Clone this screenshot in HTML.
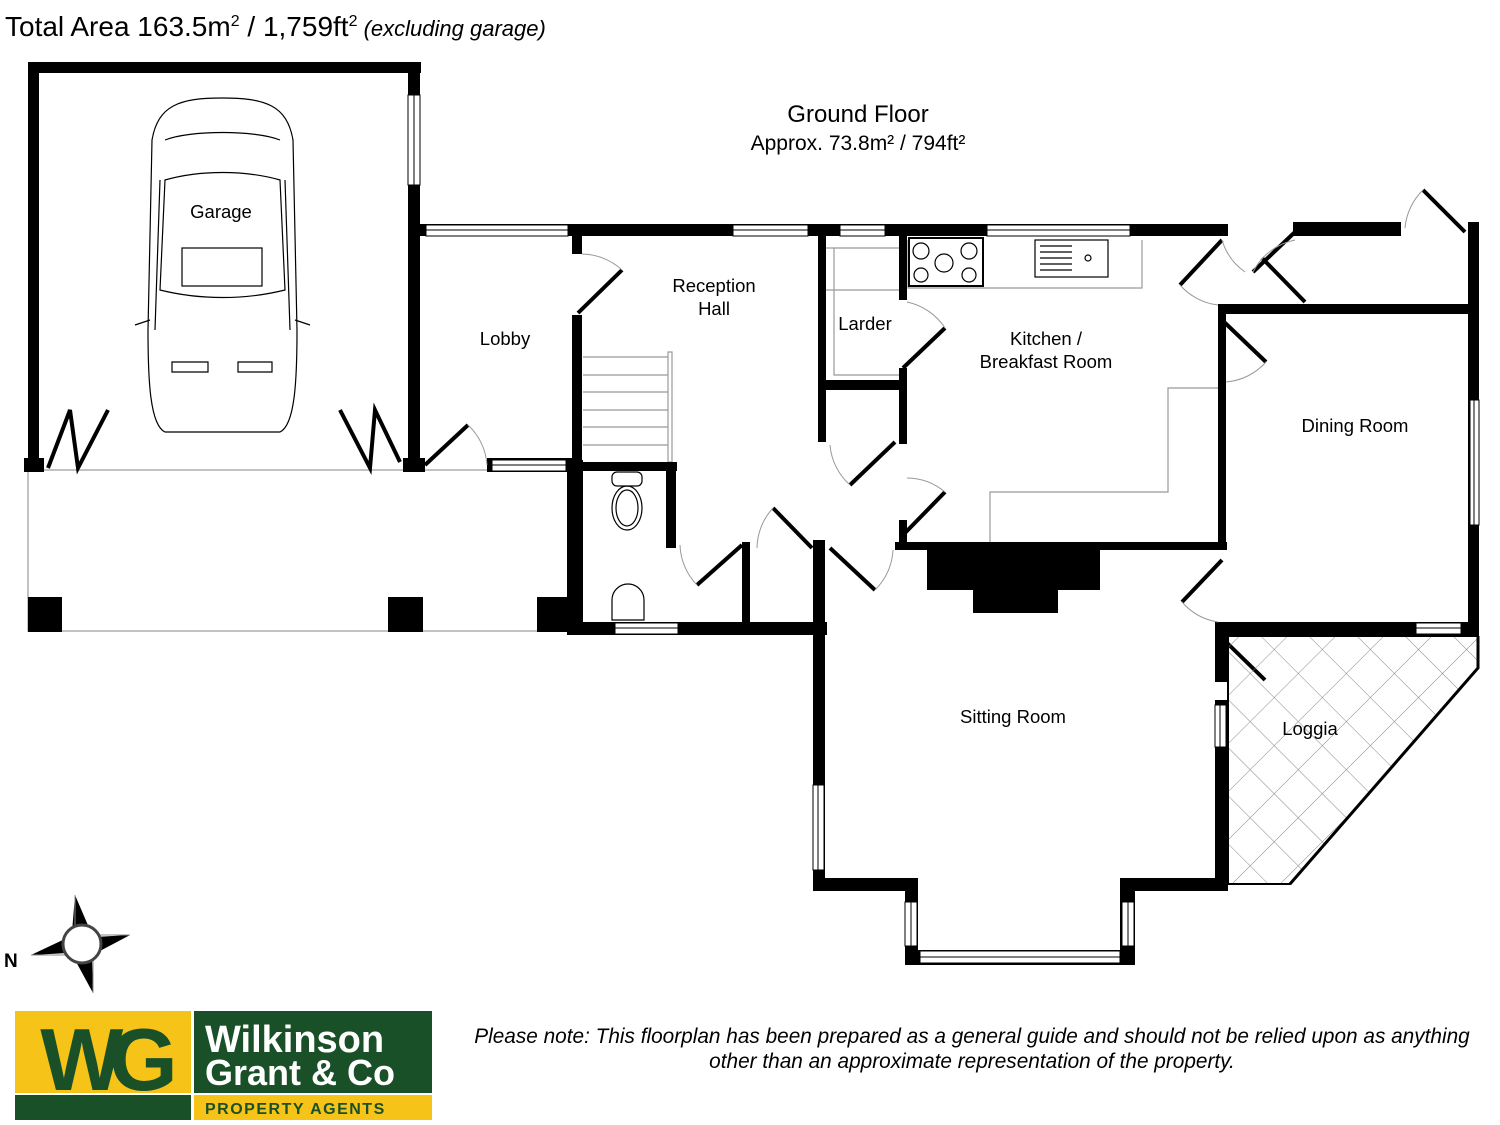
<!DOCTYPE html>
<html><head><meta charset="utf-8"><style>
html,body{margin:0;padding:0;background:#fff;}
svg{display:block}
text{font-family:"Liberation Sans",sans-serif;}
</style></head><body>
<svg width="1500" height="1125" viewBox="0 0 1500 1125" xmlns="http://www.w3.org/2000/svg">
<text x="5" y="36" font-size="28">Total Area 163.5m<tspan font-size="16" dy="-10">2</tspan><tspan dy="10"> / 1,759ft</tspan><tspan font-size="16" dy="-10">2</tspan><tspan dy="10" font-size="22" font-style="italic"> (excluding garage)</tspan></text>
<text x="858" y="122" font-size="24" text-anchor="middle">Ground Floor</text>
<text x="858" y="150" font-size="21" text-anchor="middle">Approx. 73.8m² / 794ft²</text>

<g fill="none" stroke="#999" stroke-width="1.2">
<rect x="28" y="470" width="547" height="161"/>
<path d="M826 248H900M826 290H900M834 248V375H900"/>
<path d="M908 240V288H1142V240M1225 388H1168V492H990V543"/>
<path d="M583 357H668M583 375H668M583 392H668M583 410H668M583 427H668M583 445H668"/>
<rect x="668" y="352" width="4" height="110"/>
</g>
<g fill="#000">
<rect x="28" y="62" width="393" height="11"/>
<rect x="28" y="62" width="11" height="408"/>
<rect x="408" y="62" width="12" height="410"/>
<rect x="403" y="458" width="22" height="14"/>
<rect x="24" y="458" width="20" height="14"/>
<rect x="28" y="597" width="34" height="35"/>
<rect x="388" y="597" width="35" height="35"/>
<rect x="537" y="597" width="40" height="35"/>
<rect x="418" y="224" width="810" height="12"/>
<rect x="572" y="224" width="10" height="30"/>
<rect x="572" y="315" width="10" height="155"/>
<rect x="567" y="460" width="16" height="175"/>
<rect x="487" y="458" width="90" height="14"/>
<rect x="580" y="462" width="97" height="9"/>
<rect x="666" y="462" width="10" height="86"/>
<rect x="567" y="622" width="260" height="13"/>
<rect x="742" y="542" width="8" height="90"/>
<rect x="813" y="540" width="12" height="350"/>
<rect x="818" y="236" width="8" height="150"/>
<rect x="818" y="380" width="84" height="10"/>
<rect x="818" y="390" width="8" height="52"/>
<rect x="899" y="236" width="8" height="64"/>
<rect x="899" y="368" width="8" height="76"/>
<rect x="899" y="520" width="8" height="30"/>
<rect x="895" y="542" width="332" height="8"/>
<rect x="927" y="550" width="173" height="40"/>
<rect x="973" y="590" width="85" height="23"/>
<rect x="1218" y="305" width="8" height="80"/>
<rect x="1218" y="382" width="8" height="165"/>
<rect x="1218" y="304" width="258" height="10"/>
<rect x="1468" y="222" width="11" height="414"/>
<rect x="1293" y="222" width="108" height="14"/>
<rect x="1215" y="622" width="264" height="13"/>
<rect x="1215" y="622" width="13" height="60"/>
<rect x="1215" y="700" width="13" height="190"/>
<rect x="813" y="878" width="105" height="13"/>
<rect x="905" y="878" width="13" height="87"/>
<rect x="905" y="950" width="230" height="15"/>
<rect x="1120" y="878" width="15" height="87"/>
<rect x="1120" y="878" width="108" height="13"/>
</g>
<g fill="#fff" stroke="#000" stroke-width="1">
<rect x="408" y="95" width="12" height="90"/><line x1="414" y1="95" x2="414" y2="185"/>
<rect x="426" y="225" width="142" height="11"/><line x1="426" y1="230" x2="568" y2="230"/>
<rect x="733" y="225" width="75" height="11"/><line x1="733" y1="230" x2="808" y2="230"/>
<rect x="840" y="225" width="45" height="11"/><line x1="840" y1="230" x2="885" y2="230"/>
<rect x="987" y="225" width="143" height="11"/><line x1="987" y1="230" x2="1130" y2="230"/>
<rect x="492" y="460" width="74" height="11"/><line x1="492" y1="465" x2="566" y2="465"/>
<rect x="615" y="623" width="63" height="11"/><line x1="615" y1="628" x2="678" y2="628"/>
<rect x="1470" y="400" width="9" height="125"/><line x1="1474" y1="400" x2="1474" y2="525"/>
<rect x="1416" y="623" width="45" height="11"/><line x1="1416" y1="628" x2="1461" y2="628"/>
<rect x="1215" y="705" width="11" height="42"/><line x1="1220" y1="705" x2="1220" y2="747"/>
<rect x="813" y="785" width="11" height="85"/><line x1="818" y1="785" x2="818" y2="870"/>
<rect x="905" y="902" width="12" height="44"/><line x1="911" y1="902" x2="911" y2="946"/>
<rect x="1122" y="902" width="12" height="44"/><line x1="1128" y1="902" x2="1128" y2="946"/>
<rect x="920" y="951" width="200" height="12"/><line x1="920" y1="957" x2="1120" y2="957"/>
</g>
<g stroke="#000" stroke-width="4" fill="none">
<path d="M48 468L70 410L78 468L108 410"/>
<path d="M340 410L370 468L375 410L400 462"/>
<path d="M425 465L468 425"/>
<path d="M578 313L622 270"/>
<path d="M697 585L742 545"/>
<path d="M773 508L812 548"/>
<path d="M850 485L895 442"/>
<path d="M830 548L875 590"/>
<path d="M903 535L945 492"/>
<path d="M903 368L945 328"/>
<path d="M1180 285L1222 240"/>
<path d="M1253 272L1295 232"/>
<path d="M1262 258L1305 302"/>
<path d="M1222 320L1266 362"/>
<path d="M1222 560L1182 602"/>
<path d="M1224 640L1265 680"/>
<path d="M1423 190L1465 232"/>
</g>
<g stroke="#999" stroke-width="1" fill="none">
<path d="M468 425A60 60 0 0 1 487 465"/>
<path d="M582 254A60 60 0 0 1 622 270"/>
<path d="M697 585A60 60 0 0 1 680 545"/>
<path d="M773 508A60 60 0 0 0 757 548"/>
<path d="M850 485A60 60 0 0 1 830 445"/>
<path d="M875 590A60 60 0 0 0 893 550"/>
<path d="M945 492A60 60 0 0 0 907 478"/>
<path d="M945 328A60 60 0 0 0 907 302"/>
<path d="M1180 285A60 60 0 0 0 1218 305"/>
<path d="M1222 240A60 60 0 0 0 1245 272"/>
<path d="M1253 272A60 60 0 0 1 1295 240"/>
<path d="M1266 362A60 60 0 0 1 1226 382"/>
<path d="M1182 602A60 60 0 0 0 1218 622"/>
<path d="M1423 190A60 60 0 0 0 1405 228"/>
</g>
<defs><pattern id="lat" width="34" height="34" patternUnits="userSpaceOnUse" patternTransform="rotate(45)"><path d="M0 0H34M0 0V34" stroke="#888" stroke-width="1" fill="none"/></pattern></defs>
<polygon points="1228,636 1478,636 1478,668 1290,884 1228,884" fill="url(#lat)" stroke="#000" stroke-width="2"/>
<path d="M1478,636 V668 L1290,884" stroke="#000" stroke-width="3" fill="none"/>
<g stroke="#000" stroke-width="1.2" fill="none">
<rect x="909" y="238" width="74" height="48" stroke-width="2"/>
<circle cx="921" cy="251" r="8"/><circle cx="969" cy="251" r="8"/><circle cx="944" cy="263" r="9"/><circle cx="921" cy="275" r="7"/><circle cx="969" cy="275" r="7"/>
<rect x="1035" y="240" width="73" height="37"/>
<path d="M1040 246H1072M1040 252H1072M1040 258H1072M1040 264H1072M1040 270H1072"/>
<circle cx="1088" cy="258" r="3"/>
<rect x="612" y="472" width="30" height="14" rx="5"/>
<ellipse cx="627" cy="508" rx="15" ry="22"/>
<ellipse cx="627" cy="508" rx="11" ry="18"/>
<path d="M612 620V600A16 16 0 0 1 644 600V620Z"/>
<path d="M222 98C180 98 158 105 152 140L148 330C148 380 150 425 165 432L280 432C295 425 297 380 297 330L293 140C287 105 265 98 222 98Z"/>
<path d="M165 180C200 170 245 170 280 180L285 290C245 300 200 300 160 290Z"/>
<path d="M165 140C190 130 255 130 280 140"/>
<rect x="182" y="248" width="80" height="38"/>
<path d="M150 320L135 325M295 320L310 325"/>
<path d="M172 362H208V372H172ZM238 362H272V372H238Z"/>
<path d="M160 180L155 330M285 180L290 330"/>
</g>
<g font-size="18.5" text-anchor="middle">
<text x="221" y="218">Garage</text>
<text x="505" y="345">Lobby</text>
<text x="714" y="292">Reception</text><text x="714" y="315">Hall</text>
<text x="865" y="330">Larder</text>
<text x="1046" y="345">Kitchen /</text><text x="1046" y="368">Breakfast Room</text>
<text x="1355" y="432">Dining Room</text>
<text x="1013" y="723">Sitting Room</text>
<text x="1310" y="735">Loggia</text>
</g>
<g>
<polygon points="75,895 90,930 72,932" fill="#000"/><line x1="75" y1="895" x2="75" y2="930" stroke="#888"/>
<polygon points="130,935 98,952 95,937" fill="#000"/><line x1="130" y1="935" x2="98" y2="935" stroke="#888"/>
<polygon points="93,993 74,958 92,957" fill="#000"/><line x1="93" y1="993" x2="93" y2="958" stroke="#888"/>
<polygon points="31,955 67,938 68,953" fill="#000"/><line x1="31" y1="955" x2="67" y2="955" stroke="#888"/>
<circle cx="82" cy="944" r="19" fill="#fff" stroke="#444" stroke-width="3"/>
<text x="4" y="967" font-size="19" font-weight="bold">N</text>
</g>
<rect x="15" y="1011" width="176" height="82" fill="#f6c418"/>
<rect x="15" y="1095" width="176" height="25" fill="#1a5027"/>
<rect x="194" y="1011" width="238" height="82" fill="#1a5027"/>
<rect x="194" y="1095" width="238" height="25" fill="#f6c418"/>
<text x="102" y="1090" font-size="88" font-family="Liberation Serif,serif" font-weight="bold" fill="#1a5027" text-anchor="middle" letter-spacing="-14">WG</text>
<text x="205" y="1052" font-size="38" font-family="Liberation Serif,serif" font-weight="bold" fill="#fff">Wilkinson</text>
<text x="205" y="1085" font-size="36" font-family="Liberation Serif,serif" font-weight="bold" fill="#fff">Grant &amp; Co</text>
<text x="205" y="1114" font-size="16" font-weight="bold" fill="#1a5027" letter-spacing="1.5">PROPERTY AGENTS</text>
<text x="972" y="1043" font-size="20.8" font-style="italic" text-anchor="middle">Please note: This floorplan has been prepared as a general guide and should not be relied upon as anything</text>
<text x="972" y="1068" font-size="20.8" font-style="italic" text-anchor="middle">other than an approximate representation of the property.</text>
</svg>
</body></html>
